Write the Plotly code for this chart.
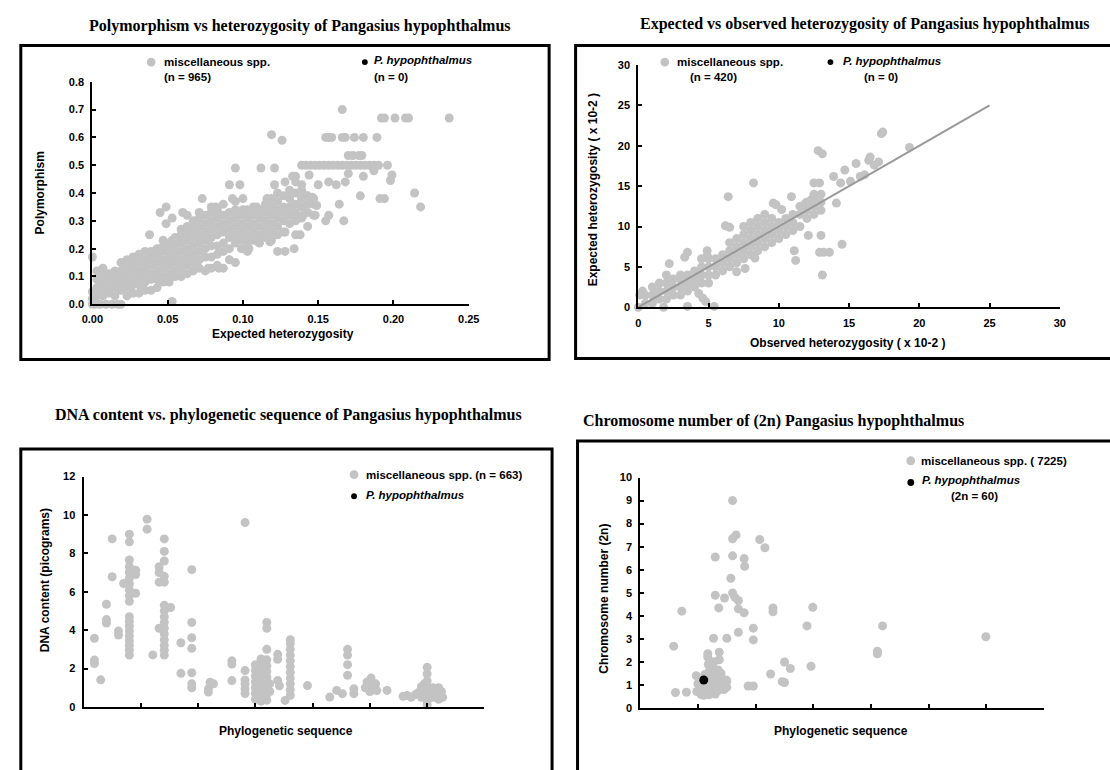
import plotly.graph_objects as go

# ---------------- DATA ----------------
# Panel 1: polymorphism vs expected heterozygosity (misc. spp.)
POLY_POINTS = [
    (0.000, 0.00), (0.002, 0.00), (0.005, 0.00), (0.009, 0.00), (0.013, 0.00), (0.017, 0.00), (0.019, 0.00),
    (0.000, 0.02), (0.000, 0.045), (0.000, 0.17), (0.053, 0.01),
    (0.003, 0.03), (0.003, 0.06), (0.003, 0.09), (0.003, 0.12),
    (0.007, 0.03), (0.007, 0.05), (0.007, 0.08), (0.007, 0.10), (0.007, 0.13),
    (0.011, 0.04), (0.011, 0.06), (0.011, 0.09), (0.011, 0.11),
    (0.015, 0.03), (0.015, 0.06), (0.015, 0.08), (0.015, 0.10), (0.015, 0.12),
    (0.019, 0.05), (0.019, 0.07), (0.019, 0.09), (0.019, 0.12), (0.019, 0.15),
    (0.023, 0.03), (0.023, 0.06), (0.023, 0.08), (0.023, 0.11), (0.023, 0.13), (0.023, 0.16),
    (0.027, 0.04), (0.027, 0.07), (0.027, 0.09), (0.027, 0.12), (0.027, 0.14), (0.027, 0.17),
    (0.031, 0.04), (0.031, 0.07), (0.031, 0.10), (0.031, 0.12), (0.031, 0.15), (0.031, 0.18),
    (0.035, 0.05), (0.035, 0.08), (0.035, 0.10), (0.035, 0.13), (0.035, 0.16), (0.035, 0.19),
    (0.039, 0.05), (0.039, 0.09), (0.039, 0.11), (0.039, 0.14), (0.039, 0.17), (0.039, 0.19),
    (0.043, 0.06), (0.043, 0.09), (0.043, 0.12), (0.043, 0.15), (0.043, 0.18), (0.043, 0.20),
    (0.047, 0.08), (0.047, 0.10), (0.047, 0.13), (0.047, 0.16), (0.047, 0.19), (0.047, 0.21),
    (0.051, 0.08), (0.051, 0.11), (0.051, 0.14), (0.051, 0.17), (0.051, 0.20), (0.051, 0.22),
    (0.055, 0.10), (0.055, 0.12), (0.055, 0.15), (0.055, 0.18), (0.055, 0.21), (0.055, 0.24),
    (0.059, 0.10), (0.059, 0.13), (0.059, 0.16), (0.059, 0.19), (0.059, 0.22), (0.059, 0.25), (0.059, 0.27),
    (0.063, 0.11), (0.063, 0.14), (0.063, 0.17), (0.063, 0.20), (0.063, 0.23), (0.063, 0.26), (0.063, 0.28),
    (0.067, 0.12), (0.067, 0.15), (0.067, 0.18), (0.067, 0.21), (0.067, 0.24), (0.067, 0.27), (0.067, 0.30),
    (0.071, 0.13), (0.071, 0.16), (0.071, 0.19), (0.071, 0.22), (0.071, 0.25), (0.071, 0.28), (0.071, 0.31), (0.071, 0.33),
    (0.075, 0.12), (0.075, 0.17), (0.075, 0.20), (0.075, 0.23), (0.075, 0.26), (0.075, 0.29), (0.075, 0.32),
    (0.079, 0.13), (0.079, 0.17), (0.079, 0.21), (0.079, 0.24), (0.079, 0.27), (0.079, 0.30), (0.079, 0.33), (0.079, 0.35),
    (0.083, 0.14), (0.083, 0.18), (0.083, 0.21), (0.083, 0.25), (0.083, 0.28), (0.083, 0.31), (0.083, 0.34),
    (0.087, 0.13), (0.087, 0.19), (0.087, 0.22), (0.087, 0.26), (0.087, 0.29), (0.087, 0.32), (0.087, 0.36),
    (0.091, 0.16), (0.091, 0.20), (0.091, 0.24), (0.091, 0.27), (0.091, 0.30), (0.091, 0.33),
    (0.095, 0.15), (0.095, 0.22), (0.095, 0.25), (0.095, 0.28), (0.095, 0.31), (0.095, 0.34), (0.095, 0.37),
    (0.099, 0.20), (0.099, 0.23), (0.099, 0.26), (0.099, 0.29), (0.099, 0.32),
    (0.103, 0.19), (0.103, 0.22), (0.103, 0.25), (0.103, 0.28), (0.103, 0.31), (0.103, 0.34),
    (0.107, 0.23), (0.107, 0.26), (0.107, 0.29), (0.107, 0.32), (0.107, 0.35),
    (0.111, 0.22), (0.111, 0.25), (0.111, 0.28), (0.111, 0.31), (0.111, 0.34),
    (0.115, 0.24), (0.115, 0.27), (0.115, 0.30), (0.115, 0.33), (0.115, 0.36),
    (0.119, 0.23), (0.119, 0.26), (0.119, 0.29), (0.119, 0.32), (0.119, 0.35), (0.119, 0.38),
    (0.123, 0.25), (0.123, 0.28), (0.123, 0.31), (0.123, 0.34), (0.123, 0.37), (0.123, 0.40),
    (0.127, 0.26), (0.127, 0.30), (0.127, 0.33), (0.127, 0.35), (0.127, 0.39),
    (0.131, 0.29), (0.131, 0.32), (0.131, 0.35), (0.131, 0.38), (0.131, 0.41),
    (0.135, 0.25), (0.135, 0.30), (0.135, 0.33), (0.135, 0.36), (0.135, 0.40), (0.135, 0.44), (0.135, 0.46),
    (0.139, 0.31), (0.139, 0.35), (0.139, 0.38), (0.139, 0.41), (0.139, 0.43),
    (0.143, 0.28), (0.143, 0.33), (0.143, 0.36), (0.143, 0.39),
    (0.147, 0.32), (0.147, 0.36), (0.147, 0.38),
    (0.045, 0.33), (0.049, 0.35), (0.049, 0.29), (0.053, 0.31), (0.038, 0.25), (0.047, 0.23), (0.053, 0.23),
    (0.060, 0.33), (0.063, 0.32), (0.073, 0.38), (0.082, 0.35), (0.095, 0.49), (0.091, 0.43), (0.098, 0.43),
    (0.093, 0.38), (0.100, 0.38), (0.100, 0.34), (0.112, 0.49), (0.121, 0.49), (0.119, 0.61), (0.126, 0.59),
    (0.121, 0.43), (0.116, 0.38), (0.109, 0.35), (0.123, 0.19), (0.128, 0.19), (0.134, 0.20),
    (0.110, 0.225), (0.118, 0.225), (0.104, 0.20), (0.084, 0.13), (0.077, 0.13),
    (0.128, 0.26), (0.138, 0.25), (0.140, 0.32), (0.148, 0.32), (0.149, 0.355), (0.142, 0.39),
    (0.146, 0.385), (0.133, 0.46), (0.128, 0.44),
    (0.166, 0.70),
    (0.192, 0.67), (0.194, 0.67), (0.201, 0.67), (0.208, 0.67), (0.210, 0.67), (0.237, 0.67),
    (0.155, 0.60), (0.157, 0.60), (0.159, 0.60), (0.166, 0.60), (0.168, 0.60), (0.174, 0.60), (0.180, 0.60), (0.189, 0.60),
    (0.170, 0.535), (0.173, 0.535), (0.177, 0.535), (0.179, 0.535),
    (0.139, 0.50), (0.142, 0.50), (0.145, 0.50), (0.148, 0.50), (0.151, 0.50), (0.154, 0.50), (0.157, 0.50),
    (0.160, 0.50), (0.163, 0.50), (0.166, 0.50), (0.169, 0.50), (0.172, 0.50), (0.175, 0.50), (0.178, 0.50),
    (0.181, 0.50), (0.184, 0.50), (0.187, 0.50), (0.190, 0.50), (0.196, 0.50),
    (0.144, 0.465), (0.170, 0.47), (0.187, 0.48), (0.199, 0.465), (0.180, 0.46),
    (0.150, 0.43), (0.157, 0.44), (0.162, 0.43), (0.168, 0.44), (0.198, 0.445),
    (0.214, 0.40), (0.178, 0.39), (0.191, 0.38), (0.194, 0.38), (0.218, 0.35), (0.164, 0.36),
    (0.167, 0.30), (0.155, 0.30), (0.157, 0.32),
]

# Panel 2: expected vs observed heterozygosity (x 10-2)
HET_POINTS = [
    (0.0, 0.0), (1.8, 0.0), (3.5, 0.1), (5.4, 0.1), (0.1, 1.5), (0.3, 2.0),
    (2.2, 5.4), (3.3, 6.2), (3.5, 6.8), (4.9, 7.0), (4.9, 6.4),
    (4.3, 1.7), (4.6, 1.1), (4.8, 0.7), (7.0, 4.4), (7.6, 4.8),
    (6.2, 10.1), (6.5, 9.9), (6.4, 13.7), (8.2, 15.4), (8.3, 6.1),
    (9.6, 12.9), (9.8, 12.7), (10.2, 12.1), (10.9, 13.7), (11.1, 7.0), (11.2, 5.8),
    (12.1, 8.9), (13.0, 8.9), (12.9, 6.8), (13.2, 6.8), (13.6, 6.8), (13.1, 4.0),
    (14.1, 12.9), (14.5, 7.8), (12.8, 19.4), (13.1, 19.0), (12.5, 15.4), (12.9, 15.4),
    (11.9, 12.9), (12.3, 13.3), (14.7, 17.0), (15.5, 17.8), (15.8, 16.2), (16.1, 16.4),
    (16.4, 18.2), (16.5, 18.6), (17.1, 18.0), (17.3, 21.5), (17.4, 21.7), (19.3, 19.8),
    (15.1, 15.6), (13.9, 16.2), (14.4, 15.4), (16.8, 17.6),
    (0.5, 0.5), (0.5, 1.5), (1.0, 0.5), (1.0, 1.5), (1.0, 2.5),
    (1.5, 1.0), (1.5, 2.0), (1.5, 3.0), (2.0, 1.0), (2.0, 2.0), (2.0, 3.0), (2.0, 4.0),
    (2.5, 1.5), (2.5, 2.5), (2.5, 3.5), (3.0, 1.5), (3.0, 2.5), (3.0, 3.5), (3.0, 4.0),
    (3.5, 2.0), (3.5, 3.0), (3.5, 4.0), (4.0, 2.5), (4.0, 3.5), (4.0, 4.5),
    (4.5, 3.0), (4.5, 4.0), (4.5, 5.0), (4.5, 6.0), (5.0, 3.0), (5.0, 4.0), (5.0, 5.0), (5.0, 6.0),
    (5.5, 4.0), (5.5, 5.0), (5.5, 6.0), (6.0, 4.5), (6.0, 5.5), (6.0, 6.5),
    (6.5, 5.0), (6.5, 6.0), (6.5, 7.0), (6.5, 8.0), (7.0, 5.5), (7.0, 6.5), (7.0, 7.5), (7.0, 8.5),
    (7.5, 6.0), (7.5, 7.0), (7.5, 8.0), (7.5, 9.0), (7.5, 10.0),
    (8.0, 6.5), (8.0, 7.5), (8.0, 8.5), (8.0, 9.5), (8.0, 10.5),
    (8.5, 7.0), (8.5, 8.0), (8.5, 9.0), (8.5, 10.0), (8.5, 11.0),
    (9.0, 7.5), (9.0, 8.5), (9.0, 9.5), (9.0, 10.5), (9.0, 11.5),
    (9.5, 8.0), (9.5, 9.0), (9.5, 10.0), (9.5, 11.0), (10.0, 8.5), (10.0, 9.5), (10.0, 10.5),
    (10.5, 9.0), (10.5, 10.0), (10.5, 11.0), (11.0, 9.5), (11.0, 10.5), (11.0, 11.5),
    (11.5, 10.0), (11.5, 11.5), (11.5, 12.5), (12.0, 11.0), (12.0, 12.0), (12.0, 13.0),
    (12.5, 11.5), (12.5, 12.5), (12.5, 13.5), (12.5, 14.0), (13.0, 12.0), (13.0, 13.0), (13.0, 14.0),
]
TREND_X = [0, 25]
TREND_Y = [0, 25]

# Panel 3: DNA content (picograms) vs phylogenetic sequence
DNA_POINTS = [
    (0.19, 3.57), (0.19, 2.44), (0.19, 2.26), (0.30, 1.41), (0.40, 5.35), (0.40, 4.55), (0.40, 4.37),
    (0.50, 6.78), (0.50, 8.75), (0.61, 3.95), (0.61, 3.74), (0.70, 6.43),
    (0.80, 2.70), (0.80, 2.95), (0.80, 3.20), (0.80, 3.45), (0.80, 3.70), (0.80, 3.95), (0.80, 4.20),
    (0.80, 4.45), (0.80, 4.70), (0.80, 5.50), (0.80, 5.80), (0.80, 6.10), (0.80, 6.40), (0.80, 6.70),
    (0.80, 7.00), (0.80, 7.30), (0.80, 7.65), (0.80, 8.60), (0.80, 9.00),
    (0.91, 7.12), (0.91, 5.92), (0.91, 6.90), (1.11, 9.78), (1.11, 9.26), (1.21, 2.71),
    (1.32, 4.10), (1.32, 6.50), (1.32, 7.00), (1.32, 7.30),
    (1.41, 2.70), (1.41, 2.95), (1.41, 3.20), (1.41, 3.50), (1.41, 3.80), (1.41, 4.10), (1.41, 4.40),
    (1.41, 4.70), (1.41, 5.00), (1.41, 5.30), (1.41, 6.50), (1.41, 6.80), (1.41, 7.60), (1.41, 8.10), (1.41, 8.75),
    (1.52, 5.18), (1.70, 3.34), (1.70, 1.75),
    (1.89, 7.15), (1.89, 4.40), (1.89, 3.60), (1.89, 3.05), (1.89, 1.78), (1.89, 1.20), (1.89, 1.00),
    (2.18, 0.94), (2.18, 0.77), (2.27, 1.20), (2.21, 1.29),
    (2.59, 2.40), (2.59, 2.23), (2.59, 1.37),
    (2.82, 9.60), (2.82, 1.89), (2.82, 0.70), (2.82, 0.95), (2.82, 1.20), (2.82, 1.40),
    (3.00, 0.40), (3.00, 0.70), (3.00, 1.00), (3.00, 1.30), (3.00, 1.60), (3.00, 1.90), (3.00, 2.20),
    (3.10, 0.30), (3.10, 0.60), (3.10, 0.90), (3.10, 1.20), (3.10, 1.50), (3.10, 1.80), (3.10, 2.10), (3.10, 2.50),
    (3.20, 0.35), (3.20, 0.65), (3.20, 0.95), (3.20, 1.25), (3.20, 1.55), (3.20, 1.85), (3.20, 2.15),
    (3.20, 2.45), (3.20, 3.00), (3.20, 4.10), (3.20, 4.40), (3.25, 0.80), (3.25, 1.20),
    (3.39, 2.74), (3.39, 2.48), (3.39, 1.37), (3.42, 1.10), (3.52, 0.34),
    (3.61, 0.60), (3.61, 0.90), (3.61, 1.20), (3.61, 1.50), (3.61, 1.80), (3.61, 2.10), (3.61, 2.40),
    (3.61, 2.70), (3.61, 3.00), (3.61, 3.30), (3.61, 3.50),
    (3.91, 1.11), (4.30, 0.51), (4.42, 0.86), (4.52, 0.69),
    (4.61, 3.00), (4.61, 2.70), (4.61, 2.20), (4.61, 1.65), (4.72, 0.94), (4.72, 0.69),
    (4.92, 1.00), (4.95, 1.30), (5.00, 0.80), (5.00, 1.10), (5.02, 1.50), (5.06, 0.90), (5.10, 1.20), (5.12, 0.85),
    (5.30, 0.86),
    (5.58, 0.55), (5.65, 0.60), (5.72, 0.50), (5.80, 0.65), (5.85, 0.75), (5.90, 0.50), (5.95, 0.90),
    (5.95, 1.20), (6.00, 0.30), (6.00, 0.60), (6.00, 1.00), (6.00, 1.35), (6.00, 1.72), (6.00, 2.06),
    (6.00, 0.10), (6.05, 0.80), (6.10, 0.50), (6.10, 1.00), (6.15, 0.70), (6.20, 0.40), (6.20, 1.00),
    (6.25, 0.80), (6.27, 0.50), (5.90, 1.05),
]

# Panel 4: chromosome number (2n) vs phylogenetic sequence
CHROM_POINTS = [
    (0.58, 2.68), (0.61, 0.67), (0.72, 4.20), (0.80, 0.68), (0.97, 1.40), (0.98, 0.71), (1.07, 0.57), (1.19, 0.57),
    (1.17, 2.35), (1.17, 2.21), (1.19, 1.85), (1.27, 3.02), (1.30, 6.55), (1.30, 4.89), (1.36, 4.34),
    (1.37, 2.42), (1.37, 2.09), (1.46, 4.77), (1.50, 3.02), (1.48, 0.93), (1.49, 1.21), (1.57, 5.63),
    (1.60, 9.00), (1.60, 7.34), (1.66, 7.51), (1.60, 6.60), (1.60, 4.99), (1.64, 4.80), (1.70, 4.66),
    (1.70, 4.30), (1.70, 3.28), (1.80, 6.48), (1.81, 6.15), (1.80, 4.13), (1.87, 0.95), (1.96, 0.95),
    (1.96, 3.46), (1.96, 2.95), (2.07, 7.31), (2.16, 6.95), (2.26, 1.47), (2.30, 4.34), (2.30, 4.17),
    (2.46, 1.14), (2.50, 1.10), (2.50, 1.99), (2.60, 1.71), (2.89, 3.56), (2.96, 1.81), (2.99, 4.37),
    (4.11, 2.46), (4.11, 2.35), (4.20, 3.56), (5.99, 3.09),
    (1.05, 0.60), (1.05, 0.90), (1.10, 0.55), (1.15, 0.80), (1.15, 1.10), (1.20, 0.60), (1.20, 0.90),
    (1.20, 1.30), (1.20, 1.60), (1.25, 0.70), (1.25, 1.00), (1.25, 1.40), (1.25, 1.80), (1.30, 0.60),
    (1.30, 0.90), (1.30, 1.20), (1.30, 1.50), (1.35, 0.75), (1.35, 1.05), (1.35, 1.35), (1.35, 1.65),
    (1.40, 0.90), (1.40, 1.20), (1.40, 1.50), (1.45, 0.80), (1.45, 1.10), (1.50, 0.90), (1.50, 1.15),
    (1.12, 1.45), (1.18, 1.90), (1.28, 2.00), (1.00, 1.05), (1.08, 0.70),
]
P_HYPO_X = [1.10]
P_HYPO_Y = [1.21]

TITLES = [
    "Polymorphism vs heterozygosity of Pangasius hypophthalmus",
    "Expected vs observed heterozygosity of Pangasius hypophthalmus",
    "DNA content vs. phylogenetic sequence of Pangasius hypophthalmus",
    "Chromosome number of (2n) Pangasius hypophthalmus",
]

# ---------------- LAYOUT HELPERS ----------------
W, H = 1110, 770
def px(x):
    return x / W
def py(y):
    return 1 - y / H

GRAY = "#C3C3C3"
SANS = "Liberation Sans, Arial, sans-serif"
SERIF = "Liberation Serif, Times New Roman, serif"
MSIZE = 9

fig = go.Figure()

def add_pts(points, xa, ya, color=GRAY, size=MSIZE):
    fig.add_trace(go.Scatter(
        x=[p[0] for p in points], y=[p[1] for p in points], mode="markers",
        marker=dict(color=color, size=size, line=dict(width=0)),
        xaxis=xa, yaxis=ya, showlegend=False, cliponaxis=False, hoverinfo="skip"))

add_pts(POLY_POINTS, "x", "y")
add_pts(HET_POINTS, "x2", "y2")
fig.add_trace(go.Scatter(x=TREND_X, y=TREND_Y, mode="lines", line=dict(color="#999999", width=2),
                         xaxis="x2", yaxis="y2", showlegend=False, hoverinfo="skip"))
add_pts(DNA_POINTS, "x3", "y3")
add_pts(CHROM_POINTS, "x4", "y4")
fig.add_trace(go.Scatter(x=P_HYPO_X, y=P_HYPO_Y, mode="markers", marker=dict(color="black", size=9),
                         xaxis="x4", yaxis="y4", showlegend=False, cliponaxis=False, hoverinfo="skip"))

tickfont = dict(family=SANS, size=11, color="black", weight="bold")
axis_common = dict(showline=True, linecolor="black", linewidth=2, ticks="inside", ticklen=4,
                   tickwidth=2, tickcolor="black", showgrid=False, zeroline=False,
                   tickfont=tickfont, fixedrange=True)

def dom_x(a, b):
    return [px(a), px(b)]
def dom_y(top, bottom):
    return [py(bottom), py(top)]

fig.update_layout(
    width=W, height=H, margin=dict(l=0, r=0, t=0, b=0),
    paper_bgcolor="white", plot_bgcolor="rgba(0,0,0,0)",
    xaxis=dict(domain=dom_x(83, 467), range=[0, 0.25], tickvals=[0, 0.05, 0.1, 0.15, 0.2, 0.25],
               tickformat=".2f", anchor="y", ticklabelstandoff=4, **axis_common),
    yaxis=dict(domain=dom_y(77, 303), range=[0, 0.8], dtick=0.1, tickformat=".1f", anchor="x",
               ticklabelstandoff=4, **axis_common),
    xaxis2=dict(domain=dom_x(640, 1070), range=[0, 30], dtick=5, anchor="y2", ticklabelstandoff=5, **axis_common),
    yaxis2=dict(domain=dom_y(60, 306), range=[0, 30], dtick=5, anchor="x2", ticklabelstandoff=4, **axis_common),
    xaxis3=dict(domain=dom_x(74, 483), range=[0, 7], tickvals=[1, 2, 3, 4, 5, 6, 7],
                showticklabels=False, anchor="y3", **axis_common),
    yaxis3=dict(domain=dom_y(478, 712), range=[0, 12], dtick=2, anchor="x3", ticklabelstandoff=4, **axis_common),
    xaxis4=dict(domain=dom_x(642, 1054), range=[0, 7], tickvals=[1, 2, 3, 4, 5, 6, 7],
                showticklabels=False, anchor="y4", **axis_common),
    yaxis4=dict(domain=dom_y(479, 713), range=[0, 10], dtick=1, anchor="x4", ticklabelstandoff=4, **axis_common),
)

# frames
frames = [(10, 40, 549, 359), (576, 40, 1125, 358), (10, 450, 552, 790), (578, 442, 1125, 790)]
for x0, y0, x1, y1 in frames:
    fig.add_shape(type="rect", xref="paper", yref="paper", x0=px(x0), x1=px(x1), y0=py(y0), y1=py(y1),
                  line=dict(color="black", width=3), fillcolor="rgba(0,0,0,0)")

annos = []
def txt(text, x, y, size=11.5, xanchor="left", angle=0, family=SANS, bold=True):
    annos.append(dict(text=text, x=px(x), y=py(y), xref="paper", yref="paper", showarrow=False,
                      xanchor=xanchor, yanchor="middle", textangle=angle,
                      font=dict(family=family, size=size, color="black", weight="bold" if bold else "normal")))

# titles
TS = 16
txt(TITLES[0], 78, 20, size=TS, family=SERIF)
txt(TITLES[1], 640, 18, size=TS, family=SERIF)
txt(TITLES[2], 43, 415, size=TS, family=SERIF)
txt(TITLES[3], 582, 422, size=TS, family=SERIF)

# axis titles
AS = 12
txt("Expected heterozygosity", 278, 333, size=AS, xanchor="center")
txt("Polymorphism", 30, 190, size=AS, xanchor="center", angle=-90)
txt("Observed heterozygosity ( x 10-2 )", 853, 342, size=AS, xanchor="center")
txt("Expected heterozygosity ( x 10-2 )", 594, 187, size=AS, xanchor="center", angle=-90)
txt("Phylogenetic sequence", 281, 736, size=AS, xanchor="center")
txt("DNA content (picograms)", 35, 583, size=AS, xanchor="center", angle=-90)
txt("Phylogenetic sequence", 847, 736, size=AS, xanchor="center")
txt("Chromosome number (2n)", 605, 602, size=AS, xanchor="center", angle=-90)

# legends
def dot(x, y, color, r=4.5):
    fig.add_shape(type="circle", xref="paper", yref="paper", x0=px(x - r), x1=px(x + r),
                  y0=py(y + r), y1=py(y - r), line=dict(width=0), fillcolor=color)

dot(143, 57, GRAY); txt("miscellaneous spp.", 154, 57); txt("(n = 965)", 154, 72)
dot(361, 57, "black", 3); txt("<i>P. hypophthalmus</i>", 368, 55); txt("(n = 0)", 368, 72)

dot(667, 57, GRAY); txt("miscellaneous spp.", 677, 57); txt("(n = 420)", 691, 72)
dot(836, 57, "black", 3); txt("<i>P. hypophthalmus</i>", 847, 56); txt("(n = 0)", 868, 72)

dot(350, 476, GRAY); txt("miscellaneous spp. (n = 663)", 360, 476)
dot(350, 498, "black", 3); txt("<i>P. hypophthalmus</i>", 360, 497)

dot(918, 462, GRAY); txt("miscellaneous spp. ( 7225)", 926, 462)
dot(918, 484, "black", 3.5); txt("<i>P. hypophthalmus</i>", 927, 481); txt("(2n = 60)", 983, 498, xanchor="center")

fig.update_layout(annotations=annos)
fig.write_html("out.html", config={"displayModeBar": False},
               post_script="document.body.style.margin='0';document.body.style.overflow='hidden';")
